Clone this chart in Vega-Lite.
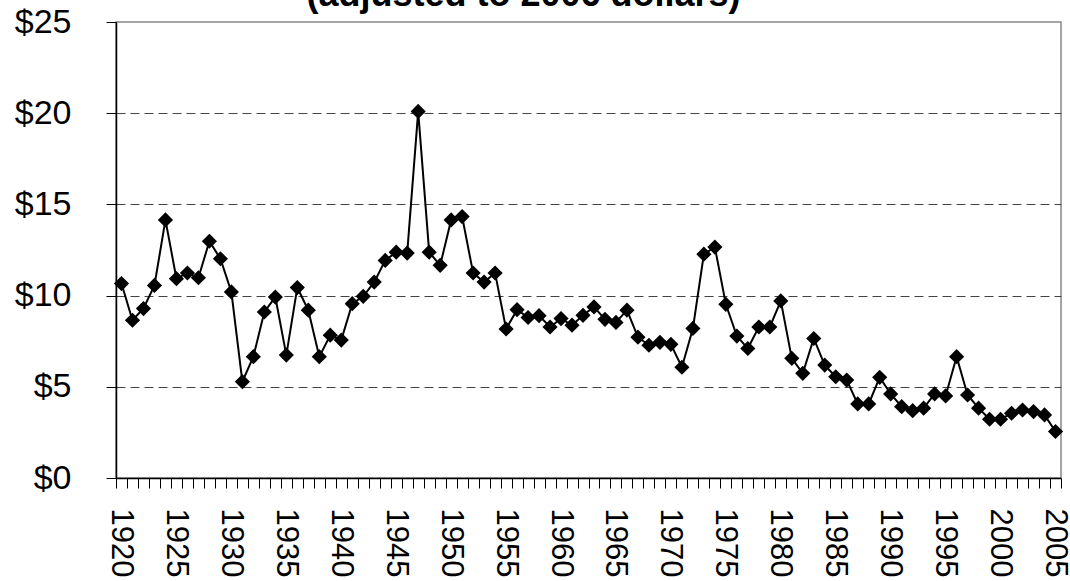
{
  "$schema": "https://vega.github.io/schema/vega-lite/v6.json",
  "width": 945,
  "height": 456,
  "autosize": {"type": "none"},
  "padding": {"left": 116, "top": 22, "right": 9, "bottom": 103},
  "background": "white",
  "title": {
    "text": "(adjusted to 2006 dollars)",
    "font": "Liberation Sans",
    "fontSize": 36,
    "fontWeight": "bold",
    "color": "black",
    "anchor": "middle",
    "baseline": "alphabetic",
    "offset": -37,
    "dx": -65
  },
  "config": {
    "view": {"stroke": "#888888", "strokeWidth": 1.5},
    "axis": {"labelFont": "Liberation Sans", "labelColor": "black", "domainColor": "black", "tickColor": "black"}
  },
  "data": {
    "values": [
      {"year": 1920, "value": 10.66}, {"year": 1921, "value": 8.65}, {"year": 1922, "value": 9.29},
      {"year": 1923, "value": 10.56}, {"year": 1924, "value": 14.15}, {"year": 1925, "value": 10.93},
      {"year": 1926, "value": 11.24}, {"year": 1927, "value": 10.98}, {"year": 1928, "value": 12.98},
      {"year": 1929, "value": 12.02}, {"year": 1930, "value": 10.2}, {"year": 1931, "value": 5.28},
      {"year": 1932, "value": 6.65}, {"year": 1933, "value": 9.1}, {"year": 1934, "value": 9.92},
      {"year": 1935, "value": 6.74}, {"year": 1936, "value": 10.44}, {"year": 1937, "value": 9.2},
      {"year": 1938, "value": 6.65}, {"year": 1939, "value": 7.83}, {"year": 1940, "value": 7.56},
      {"year": 1941, "value": 9.56}, {"year": 1942, "value": 9.96}, {"year": 1943, "value": 10.74},
      {"year": 1944, "value": 11.93}, {"year": 1945, "value": 12.38}, {"year": 1946, "value": 12.33},
      {"year": 1947, "value": 20.1}, {"year": 1948, "value": 12.38}, {"year": 1949, "value": 11.66},
      {"year": 1950, "value": 14.15}, {"year": 1951, "value": 14.33}, {"year": 1952, "value": 11.24},
      {"year": 1953, "value": 10.74}, {"year": 1954, "value": 11.24}, {"year": 1955, "value": 8.17},
      {"year": 1956, "value": 9.23}, {"year": 1957, "value": 8.8}, {"year": 1958, "value": 8.9},
      {"year": 1959, "value": 8.28}, {"year": 1960, "value": 8.74}, {"year": 1961, "value": 8.38},
      {"year": 1962, "value": 8.92}, {"year": 1963, "value": 9.38}, {"year": 1964, "value": 8.7},
      {"year": 1965, "value": 8.53}, {"year": 1966, "value": 9.2}, {"year": 1967, "value": 7.72},
      {"year": 1968, "value": 7.28}, {"year": 1969, "value": 7.44}, {"year": 1970, "value": 7.33},
      {"year": 1971, "value": 6.07}, {"year": 1972, "value": 8.2}, {"year": 1973, "value": 12.27},
      {"year": 1974, "value": 12.66}, {"year": 1975, "value": 9.52}, {"year": 1976, "value": 7.78},
      {"year": 1977, "value": 7.1}, {"year": 1978, "value": 8.28}, {"year": 1979, "value": 8.28},
      {"year": 1980, "value": 9.71}, {"year": 1981, "value": 6.56}, {"year": 1982, "value": 5.74},
      {"year": 1983, "value": 7.65}, {"year": 1984, "value": 6.19}, {"year": 1985, "value": 5.55},
      {"year": 1986, "value": 5.37}, {"year": 1987, "value": 4.06}, {"year": 1988, "value": 4.06},
      {"year": 1989, "value": 5.52}, {"year": 1990, "value": 4.61}, {"year": 1991, "value": 3.91},
      {"year": 1992, "value": 3.69}, {"year": 1993, "value": 3.83}, {"year": 1994, "value": 4.61},
      {"year": 1995, "value": 4.5}, {"year": 1996, "value": 6.65}, {"year": 1997, "value": 4.55},
      {"year": 1998, "value": 3.83}, {"year": 1999, "value": 3.22}, {"year": 2000, "value": 3.22},
      {"year": 2001, "value": 3.55}, {"year": 2002, "value": 3.73}, {"year": 2003, "value": 3.64},
      {"year": 2004, "value": 3.46}, {"year": 2005, "value": 2.55}
    ]
  },
  "encoding": {
    "x": {
      "field": "year",
      "type": "quantitative",
      "scale": {"domain": [1919.5, 2005.5], "nice": false, "zero": false},
      "axis": {
        "title": null,
        "values": [1919.5,1920.5,1921.5,1922.5,1923.5,1924.5,1925.5,1926.5,1927.5,1928.5,1929.5,1930.5,1931.5,1932.5,1933.5,1934.5,1935.5,1936.5,1937.5,1938.5,1939.5,1940.5,1941.5,1942.5,1943.5,1944.5,1945.5,1946.5,1947.5,1948.5,1949.5,1950.5,1951.5,1952.5,1953.5,1954.5,1955.5,1956.5,1957.5,1958.5,1959.5,1960.5,1961.5,1962.5,1963.5,1964.5,1965.5,1966.5,1967.5,1968.5,1969.5,1970.5,1971.5,1972.5,1973.5,1974.5,1975.5,1976.5,1977.5,1978.5,1979.5,1980.5,1981.5,1982.5,1983.5,1984.5,1985.5,1986.5,1987.5,1988.5,1989.5,1990.5,1991.5,1992.5,1993.5,1994.5,1995.5,1996.5,1997.5,1998.5,1999.5,2000.5,2001.5,2002.5,2003.5,2004.5,2005.5],
        "labelExpr": "((datum.value + 0.5) % 5 == 0 && datum.value < 2005) ? toString(datum.value + 0.5) : ''",
        "labelOffset": 4.5,
        "labelAngle": 90,
        "labelAlign": "left",
        "labelBaseline": "middle",
        "labelFontSize": 31,
        "labelPadding": 20,
        "labelOverlap": false,
        "labelFlush": false,
        "labelBound": false,
        "tickSize": 10,
        "tickWidth": 1,
        "domainWidth": 1.5,
        "grid": false
      }
    },
    "y": {
      "field": "value",
      "type": "quantitative",
      "scale": {"domain": [0, 25], "nice": false},
      "axis": {
        "title": null,
        "values": [0, 5, 10, 15, 20, 25],
        "labelExpr": "'$' + datum.value",
        "labelFontSize": 34,
        "labelPadding": 35,
        "tickSize": 10,
        "tickWidth": 1,
        "domainWidth": 1.5,
        "grid": true,
        "gridColor": "#444444",
        "gridDash": [9, 5],
        "gridWidth": 1,
        "gridOpacity": {"condition": {"test": "datum.value == 0 || datum.value == 25", "value": 0}, "value": 1}
      }
    }
  },
  "layer": [
    {"mark": {"type": "line", "color": "black", "strokeWidth": 2}},
    {"mark": {"type": "point", "shape": "diamond", "filled": true, "color": "black", "opacity": 1, "size": 230}}
  ]
}
